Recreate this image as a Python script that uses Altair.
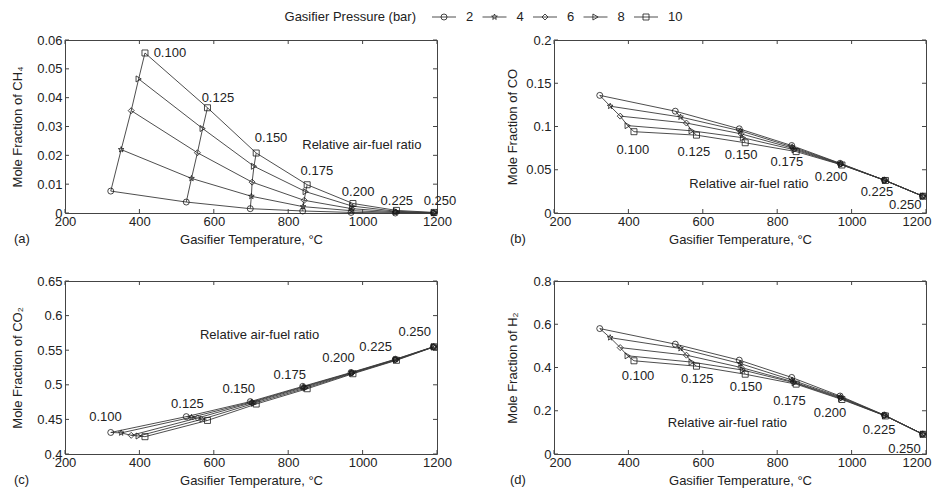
import math
import altair as alt
import pandas as pd

# ---------------- data ----------------
ratios = [0.100, 0.125, 0.150, 0.175, 0.200, 0.225, 0.250]
ratio_labels = ["0.100", "0.125", "0.150", "0.175", "0.200", "0.225", "0.250"]
pressures = [2, 4, 6, 8, 10]

# gasifier temperature (deg C): rows = air-fuel ratio, columns = pressure 2..10 bar
temperature = [
    [323, 351, 378, 398, 415],
    [526, 540, 556, 570, 583],
    [698, 701, 703, 708, 714],
    [839, 840, 843, 847, 851],
    [969, 970, 971, 972, 974],
    [1088, 1088, 1089, 1090, 1091],
    [1191, 1191, 1191, 1192, 1192],
]

ch4 = [
    [0.0076, 0.0220, 0.0355, 0.0465, 0.0555],
    [0.0038, 0.0120, 0.0209, 0.0293, 0.0365],
    [0.0015, 0.0058, 0.0107, 0.0162, 0.0208],
    [0.0007, 0.0022, 0.0044, 0.0074, 0.0098],
    [0.0002, 0.0008, 0.0015, 0.0024, 0.0033],
    [0.0000, 0.0002, 0.0004, 0.0006, 0.0009],
    [0.0000, 0.0000, 0.0001, 0.0001, 0.0002],
]
co = [
    [0.1360, 0.1235, 0.1120, 0.1010, 0.0940],
    [0.1177, 0.1110, 0.1040, 0.0950, 0.0900],
    [0.0973, 0.0950, 0.0915, 0.0870, 0.0812],
    [0.0780, 0.0765, 0.0748, 0.0730, 0.0710],
    [0.0575, 0.0570, 0.0565, 0.0560, 0.0555],
    [0.0380, 0.0379, 0.0378, 0.0377, 0.0376],
    [0.0195, 0.0195, 0.0195, 0.0194, 0.0194],
]
co2 = [
    [0.4311, 0.4305, 0.4270, 0.4260, 0.4250],
    [0.4540, 0.4530, 0.4520, 0.4505, 0.4485],
    [0.4757, 0.4750, 0.4742, 0.4732, 0.4722],
    [0.4977, 0.4970, 0.4962, 0.4952, 0.4943],
    [0.5178, 0.5174, 0.5170, 0.5165, 0.5160],
    [0.5370, 0.5366, 0.5362, 0.5358, 0.5354],
    [0.5550, 0.5550, 0.5549, 0.5549, 0.5548],
]
h2 = [
    [0.580, 0.538, 0.492, 0.454, 0.431],
    [0.508, 0.488, 0.457, 0.425, 0.406],
    [0.434, 0.418, 0.400, 0.388, 0.369],
    [0.354, 0.342, 0.334, 0.329, 0.323],
    [0.268, 0.264, 0.260, 0.256, 0.252],
    [0.180, 0.179, 0.178, 0.177, 0.176],
    [0.092, 0.092, 0.092, 0.091, 0.091],
]

x_ticks = [200, 400, 600, 800, 1000, 1200]
ticks_ch4 = [0, 0.01, 0.02, 0.03, 0.04, 0.05, 0.06]
ticks_co = [0, 0.05, 0.1, 0.15, 0.2]
ticks_co2 = [0.4, 0.45, 0.5, 0.55, 0.6, 0.65]
ticks_h2 = [0, 0.2, 0.4, 0.6, 0.8]

# anchors of the ratio annotations (temperature, mole fraction)
lab_ch4_T = [482, 611, 754, 877, 988, 1092, 1208]
lab_ch4_v = [0.0555, 0.0399, 0.0260, 0.01457, 0.00728, 0.00416, 0.00416]
lab_co_T = [412, 576, 703, 826, 945, 1068, 1144]
lab_co_v = [0.0728, 0.0705, 0.067, 0.059, 0.0416, 0.0243, 0.0092]
lab_co2_T = [309, 529, 667, 804, 935, 1035, 1140]
lab_co2_v = [0.4536, 0.4718, 0.4943, 0.5145, 0.5389, 0.5542, 0.5758]
lab_h2_T = [426, 585, 716, 833, 942, 1074, 1142]
lab_h2_v = [0.3615, 0.349, 0.311, 0.246, 0.191, 0.111, 0.023]

note_text = "Relative air-fuel ratio"
note_ch4 = (998, 0.0236)
note_co = (724, 0.0335)
note_co2 = (723, 0.5719)
note_h2 = (666, 0.1446)

# ---------------- styling ----------------
W, H = 372, 173
FONT = "Liberation Sans"
FS = 13
TXT = "#222222"
LINE = "#3a3a3a"
BOX = "#444444"

pts = []
for k in range(10):
    ang = -math.pi / 2 + k * math.pi / 5
    r = 1.0 if k % 2 == 0 else 0.42
    pts.append(f"{r * math.cos(ang):.3f},{r * math.sin(ang):.3f}")
STAR = "M" + "L".join(pts) + "Z"
shape_range = ["circle", STAR, "diamond", "triangle-right", "square"]
shape_scale = alt.Scale(domain=pressures, range=shape_range)


def panel(values, yticks, ytitle, lab_T, lab_v, note, tag, tag_dx, title_x, right):
    rows = []
    for i, r in enumerate(ratios):
        for j, p in enumerate(pressures):
            rows.append({"ratio": r, "P": p, "T": temperature[i][j], "v": values[i][j]})
    df = pd.DataFrame(rows)

    xs = alt.Scale(domain=[200, 1200], nice=False, zero=False)
    ys = alt.Scale(domain=[yticks[0], yticks[-1]], nice=False, zero=False)
    if right:
        flush = dict(labelFlush=True, labelFlushOffset=5)
    else:
        flush = dict(labelFlush=False)
    xax = alt.Axis(values=x_ticks, format="d", title="Gasifier Temperature, °C",
                   ticks=False, domain=False, grid=False, labelPadding=2,
                   labelOverlap=False, titleBaseline="alphabetic", titleY=30, **flush)
    yax = alt.Axis(values=yticks, format="~g", title=ytitle, ticks=False,
                   domain=False, grid=False, labelPadding=3, labelFlush=False,
                   labelOverlap=False, titleX=title_x)

    def X(f):
        return alt.X(f, scale=xs, axis=xax)

    def Y(f):
        return alt.Y(f, scale=ys, axis=yax)

    base = alt.Chart(df)
    p_lines = base.mark_line(color=LINE, strokeWidth=0.9).encode(
        x=X("T:Q"), y=Y("v:Q"), detail="P:N", order="ratio:Q")
    r_lines = base.mark_line(color=LINE, strokeWidth=0.9).encode(
        x=X("T:Q"), y=Y("v:Q"), detail="ratio:N", order="P:Q")
    points = base.mark_point(filled=False, size=36, strokeWidth=0.8, color="#1a1a1a",
                             opacity=1).encode(
        x=X("T:Q"), y=Y("v:Q"),
        shape=alt.Shape("P:O", scale=shape_scale, legend=None))

    lab_df = pd.DataFrame({"T": lab_T, "v": lab_v, "s": ratio_labels})
    labels = alt.Chart(lab_df).mark_text(font=FONT, fontSize=FS, color=TXT,
                                         align="center", baseline="middle").encode(
        x=X("T:Q"), y=Y("v:Q"), text="s:N")
    note_df = pd.DataFrame({"T": [note[0]], "v": [note[1]], "s": [note_text]})
    note_m = alt.Chart(note_df).mark_text(font=FONT, fontSize=FS, color=TXT,
                                          align="center", baseline="middle").encode(
        x=X("T:Q"), y=Y("v:Q"), text="s:N")

    xt = pd.DataFrame({"t": x_ticks})
    yt = pd.DataFrame({"t": yticks})
    tick_style = dict(color=BOX, strokeWidth=1)
    xb = alt.Chart(xt).mark_rule(**tick_style).encode(
        x=X("t:Q"), y=alt.value(H), y2=alt.value(H - 4))
    xtop = alt.Chart(xt).mark_rule(**tick_style).encode(
        x=X("t:Q"), y=alt.value(0), y2=alt.value(4))
    yl = alt.Chart(yt).mark_rule(**tick_style).encode(
        y=Y("t:Q"), x=alt.value(0), x2=alt.value(4))
    yr = alt.Chart(yt).mark_rule(**tick_style).encode(
        y=Y("t:Q"), x=alt.value(W), x2=alt.value(W - 4))

    tag_m = alt.Chart(pd.DataFrame({"s": [tag]})).mark_text(
        font=FONT, fontSize=FS, color=TXT, align="left", baseline="middle").encode(
        x=alt.value(tag_dx), y=alt.value(H + 26), text="s:N")

    return alt.layer(xb, xtop, yl, yr, p_lines, r_lines, points, labels, note_m,
                     tag_m).properties(
        width=W, height=H,
        view=alt.ViewBackground(stroke=BOX, strokeWidth=1, fill="white"))


pa = panel(ch4, ticks_ch4, "Mole Fraction of CH₄", lab_ch4_T, lab_ch4_v, note_ch4,
           "(a)", -51, -41, False)
pb = panel(co, ticks_co, "Mole Fraction of CO", lab_co_T, lab_co_v, note_co,
           "(b)", -44, -35, True)
pc = panel(co2, ticks_co2, "Mole Fraction of CO₂", lab_co2_T, lab_co2_v, note_co2,
           "(c)", -51, -41, False)
pd_ = panel(h2, ticks_h2, "Mole Fraction of H₂", lab_h2_T, lab_h2_v, note_h2,
            "(d)", -44, -35, True)

grid = alt.concat(pa, pb, pc, pd_, columns=2,
                  spacing={"row": 68, "column": 117}, bounds="flush")

# ---------------- custom legend ----------------
leg_df = pd.DataFrame({"P": pressures, "s": [str(p) for p in pressures]})
lx = alt.X("P:O", scale=alt.Scale(type="point", domain=pressures, range=[379, 581],
                                  padding=0), axis=None)
leg_line = alt.Chart(leg_df).mark_rule(color=LINE, strokeWidth=0.9, xOffset=-12,
                                       x2Offset=12).encode(
    x=lx, x2="P:O", y=alt.value(7))
leg_pts = alt.Chart(leg_df).mark_point(filled=False, size=36, strokeWidth=0.8,
                                       color="#1a1a1a", opacity=1).encode(
    x=lx, y=alt.value(7), shape=alt.Shape("P:O", scale=shape_scale, legend=None))
leg_txt = alt.Chart(leg_df).mark_text(font=FONT, fontSize=FS, color=TXT, align="left",
                                      baseline="middle", dx=22).encode(
    x=lx, y=alt.value(7), text="s:N")
leg_title = alt.Chart(leg_df).transform_filter("datum.P == 2").mark_text(
    font=FONT, fontSize=FS, color=TXT, align="right", baseline="middle", dx=-28,
    text="Gasifier Pressure (bar)").encode(x=lx, y=alt.value(7))
legend = alt.layer(leg_line, leg_pts, leg_txt, leg_title).properties(
    width=861, height=14, view=alt.ViewBackground(stroke="transparent"))

chart = alt.vconcat(legend, grid, spacing=16, bounds="flush").properties(
    padding={"left": 2, "top": 1, "right": 0, "bottom": 0}
).configure(font=FONT).configure_axis(
    labelFont=FONT, titleFont=FONT, labelFontSize=FS, titleFontSize=FS,
    labelColor=TXT, titleColor=TXT, titleFontWeight="normal"
)

chart.save("out.html", embed_options={"renderer": "svg", "actions": False})
